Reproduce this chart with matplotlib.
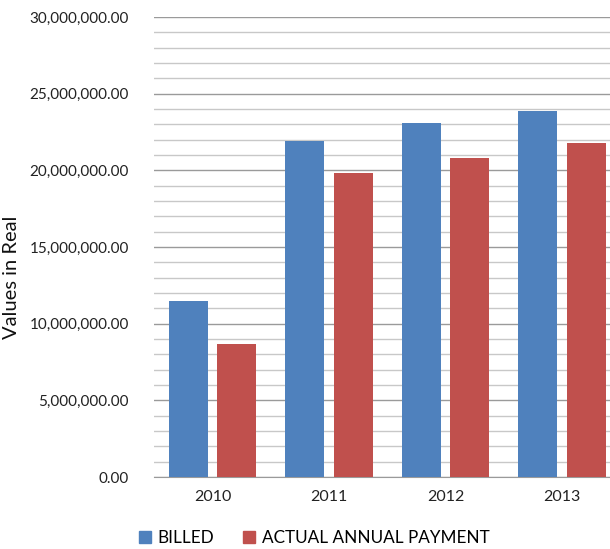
import matplotlib
matplotlib.use("Agg")
import matplotlib.pyplot as plt
import numpy as np
from matplotlib.patches import Patch
from matplotlib.ticker import FuncFormatter, MultipleLocator

years = ["2010", "2011", "2012", "2013"]
billed = [11480000, 21920000, 23090000, 23850000]
actual_payment = [8670000, 19830000, 20790000, 21810000]

series_names = ["BILLED", "ACTUAL ANNUAL PAYMENT"]
blue = "#4F81BD"
red = "#C0504D"

plt.rcParams["font.family"] = ["Lato", "DejaVu Sans"]

fig = plt.figure(figsize=(6.10, 5.49), dpi=100)
ax = fig.add_axes([0.2525, 0.1311, 0.7475, 0.8379])

x = np.arange(len(years))
width = 0.335
offset = 0.208
ax.bar(x - offset, billed, width, color=blue, zorder=3)
ax.bar(x + offset, actual_payment, width, color=red, zorder=3)

ax.set_xlim(-0.502, 3.41)
ax.set_ylim(0, 30000000)
ax.yaxis.set_major_locator(MultipleLocator(5000000))
ax.yaxis.set_minor_locator(MultipleLocator(1000000))
ax.yaxis.set_major_formatter(FuncFormatter(lambda v, p: f"{v:,.2f}"))
ax.grid(axis="y", which="major", color="#9a9a9a", linewidth=1.0, zorder=0)
ax.grid(axis="y", which="minor", color="#c8c8c8", linewidth=1.0, zorder=0)

ax.set_xticks(x)
ax.set_xticklabels(years)
for s in ["top", "right", "left"]:
    ax.spines[s].set_visible(False)
ax.spines["bottom"].set_color("#9a9a9a")
ax.tick_params(axis="y", which="both", length=0, labelsize=11, pad=18, colors="#222222")
ax.tick_params(axis="x", length=0, labelsize=11.5, pad=9, colors="#222222")
ax.set_ylabel("Values in Real", fontsize=14.5, color="#111111")
ax.yaxis.set_label_coords(-0.294, 0.435)

handles = [Patch(color=blue), Patch(color=red)]
fig.legend(handles, series_names, loc="center", bbox_to_anchor=(0.515, 0.02),
           ncol=2, frameon=False, fontsize=12.3, handlelength=0.7, handleheight=0.7,
           handletextpad=0.4, columnspacing=1.7)

fig.savefig("out.png", dpi=100)
